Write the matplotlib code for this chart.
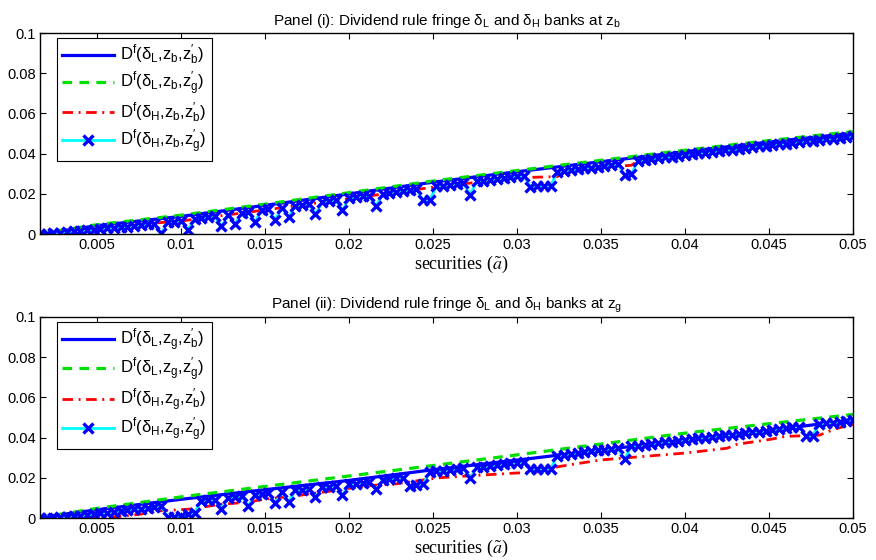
import numpy as np
import matplotlib
matplotlib.use("Agg")
import matplotlib.pyplot as plt

plt.rcParams['font.family'] = ['Liberation Sans', 'DejaVu Sans']
plt.rcParams['mathtext.fontset'] = 'custom'
plt.rcParams['mathtext.rm'] = 'Liberation Sans'
plt.rcParams['mathtext.it'] = 'Liberation Sans:italic'
plt.rcParams['mathtext.default'] = 'regular'

# securities grid (122 points from 0.0016 to 0.05)
sec = np.linspace(0.0016, 0.05, 122)

# smooth curves are read at a few points (values in 1e-3)
x_smooth = [1.6, 5, 10, 15, 20, 25, 30, 35, 40, 45, 50]
p1_blue = [0.0, 4.2, 8.8, 14.3, 20.0, 25.8, 31.0, 36.0, 41.0, 45.8, 50.2]
p1_green = [0.3, 4.7, 9.4, 14.9, 20.6, 26.4, 31.6, 36.7, 41.7, 46.5, 51.0]
p2_blue = [0.3, 4.1, 9.3, 14.1, 18.7, 24.0, 28.8, 33.8, 38.8, 43.6, 48.8]
p2_green = [0.3, 4.8, 10.5, 15.7, 20.9, 26.1, 31.4, 36.8, 42.2, 46.9, 51.5]

# red dash-dot curves (values in 1e-3)
p1_red_x = [1.6, 5.0, 8.6, 10, 15, 20, 25, 30, 32.4, 32.8, 35, 36.8, 37.2, 40, 45, 50]
p1_red = [0.0, 2.4, 5.6, 6.5, 12.0, 17.6, 23.3, 28.0, 28.6, 31.0, 33.3, 34.2, 36.4, 39.3, 44.0, 48.5]
p2_red_x = [1.6, 4.0, 6.0, 7.5, 8.8, 10.5, 12.4, 13.8, 15.0, 16.8, 19.0, 21.0, 22.8, 24.8,
            25.5, 27.4, 30.0, 31.0, 32.5, 35.0, 40.0, 42.5, 43.1, 45.0, 46.0, 48.0, 49.0, 50.0]
p2_red = [0.0, 0.1, 0.5, 1.8, 3.6, 4.4, 6.9, 7.7, 9.4, 11.0, 13.5, 16.0, 17.0, 19.4,
          20.1, 21.1, 22.4, 22.6, 25.6, 28.9, 32.3, 34.7, 36.7, 39.0, 40.6, 41.2, 44.5, 46.5]

# cyan curve with x markers, one value per grid point (values in 1e-3)
p1_cyan = [0.0, 0.1, 0.3, 0.6, 1.0, 1.3, 1.6, 1.9, 2.2, 2.5,
           2.8, 3.1, 3.4, 3.7, 4.0, 4.4, 4.8, 5.1, 0.3, 5.8,
           6.2, 6.6, 2.1, 7.4, 7.9, 8.3, 8.8, 3.8, 9.6, 5.0,
           10.5, 10.9, 6.2, 11.8, 12.3, 7.2, 13.2, 8.3, 14.1, 14.6,
           15.0, 9.9, 15.9, 16.4, 16.8, 11.8, 17.8, 18.2, 18.7, 19.1,
           14.0, 20.1, 20.5, 21.0, 21.4, 21.9, 22.4, 16.8, 17.0, 23.7,
           24.1, 24.5, 24.9, 25.3, 19.6, 26.2, 26.6, 27.0, 27.4, 27.8,
           28.2, 28.7, 29.1, 23.6, 23.7, 23.9, 24.1, 31.1, 31.5, 31.9,
           32.3, 32.7, 33.1, 33.5, 33.9, 34.3, 34.7, 29.5, 29.7, 36.5,
           36.9, 37.3, 37.7, 38.1, 38.5, 38.9, 39.3, 39.7, 40.1, 40.5,
           40.9, 41.2, 41.6, 42.0, 42.4, 42.8, 43.2, 43.6, 44.0, 44.3,
           44.7, 45.0, 45.4, 45.8, 46.1, 46.5, 46.8, 47.2, 47.5, 47.9,
           48.2, 48.6]
p2_cyan = [0.0, 0.1, 0.2, 0.4, 0.6, 0.9, 1.2, 1.5, 1.9, 2.3,
           2.7, 3.1, 3.5, 3.9, 4.3, 4.7, 5.1, 5.5, 5.9, 0.7,
           0.5, 1.0, 1.8, 2.6, 8.5, 8.9, 9.2, 4.4, 10.0, 10.4,
           10.8, 6.1, 11.5, 11.9, 12.3, 7.3, 13.0, 8.1, 13.8, 14.1,
           14.5, 10.2, 15.2, 15.6, 16.0, 11.5, 16.7, 17.1, 17.5, 18.0,
           14.3, 18.8, 19.2, 19.7, 20.1, 16.0, 16.5, 16.8, 22.8, 23.2,
           23.6, 24.0, 24.3, 24.7, 19.9, 25.3, 25.6, 26.0, 26.4, 26.8,
           27.2, 27.6, 28.0, 24.3, 24.2, 24.3, 24.5, 31.0, 31.5, 32.0,
           32.4, 32.8, 33.2, 33.6, 34.0, 34.4, 34.8, 29.2, 35.6, 36.0,
           36.4, 36.8, 37.2, 37.6, 38.0, 38.4, 38.8, 39.2, 39.6, 39.9,
           40.3, 40.7, 41.1, 41.5, 41.9, 42.3, 42.6, 43.0, 43.4, 43.8,
           44.2, 44.6, 45.1, 45.5, 40.8, 41.0, 46.7, 47.1, 47.5, 48.0,
           48.4, 48.8]

xticks = [0.005, 0.01, 0.015, 0.02, 0.025, 0.03, 0.035, 0.04, 0.045, 0.05]
xtick_labels = ['0.005', '0.01', '0.015', '0.02', '0.025', '0.03', '0.035', '0.04', '0.045', '0.05']
yticks = [0, 0.02, 0.04, 0.06, 0.08, 0.1]
ytick_labels = ['0', '0.02', '0.04', '0.06', '0.08', '0.1']

titles = [r'Panel (i): Dividend rule fringe $\delta_L$ and $\delta_H$ banks at $z_b$',
          r'Panel (ii): Dividend rule fringe $\delta_L$ and $\delta_H$ banks at $z_g$']
labels = [[r'$D^f(\delta_L{,}z_b{,}z_b^{\prime})$', r'$D^f(\delta_L{,}z_b{,}z_g^{\prime})$',
           r'$D^f(\delta_H{,}z_b{,}z_b^{\prime})$', r'$D^f(\delta_H{,}z_b{,}z_g^{\prime})$'],
          [r'$D^f(\delta_L{,}z_g{,}z_b^{\prime})$', r'$D^f(\delta_L{,}z_g{,}z_g^{\prime})$',
           r'$D^f(\delta_H{,}z_g{,}z_b^{\prime})$', r'$D^f(\delta_H{,}z_g{,}z_g^{\prime})$']]

panels = [(p1_blue, p1_green, p1_red_x, p1_red, p1_cyan),
          (p2_blue, p2_green, p2_red_x, p2_red, p2_cyan)]

fig = plt.figure(figsize=(8.76, 5.60), dpi=100)
boxes = [[0.0457, 0.582, 0.928, 0.359], [0.0457, 0.075, 0.928, 0.359]]

xs = np.array(x_smooth) * 1e-3
for i, (blue, green, rx, red, cyan) in enumerate(panels):
    ax = fig.add_axes(boxes[i])
    ax.plot(xs, np.array(blue) * 1e-3, '-', color='#0000ff', lw=2.3, label=labels[i][0])
    ax.plot(xs, np.array(green) * 1e-3, '--', color='#00e000', lw=2.3,
            dashes=(3, 2.3), label=labels[i][1])
    ax.plot(np.array(rx) * 1e-3, np.array(red) * 1e-3, '-.', color='#ff0000', lw=2.0,
            dashes=(3.8, 2.0, 0.7, 2.0), label=labels[i][2])
    ax.plot(sec, np.array(cyan) * 1e-3, '-', color='#00ffff', lw=2.0, marker='x',
            ms=7, mew=2.4, mec='#0000ff', label=labels[i][3])

    ax.set_xlim(0.0016, 0.05)
    ax.set_ylim(0, 0.1)
    ax.set_xticks(xticks)
    ax.set_xticklabels(xtick_labels)
    ax.set_yticks(yticks)
    ax.set_yticklabels(ytick_labels)
    ax.tick_params(direction='in', top=True, right=True, length=4, labelsize=10.5, pad=3)
    for s in ax.spines.values():
        s.set_linewidth(1.0)
    ax.set_title(titles[i], fontsize=11, pad=6)
    ax.set_xlabel(r'securities ($\mathit{\tilde{a}}$)', family='Liberation Serif',
                  math_fontfamily='stix', fontsize=13, labelpad=1)
    ax.xaxis.label.set_x(0.518)
    leg = ax.legend(loc='upper left', bbox_to_anchor=(0.021, 0.975), borderaxespad=0,
                    fontsize=12, handlelength=3.1, handletextpad=0.4, borderpad=0.3,
                    labelspacing=0.15, fancybox=False, edgecolor='black', framealpha=1)
    leg.get_frame().set_linewidth(0.8)

fig.savefig('out.png', dpi=100)
